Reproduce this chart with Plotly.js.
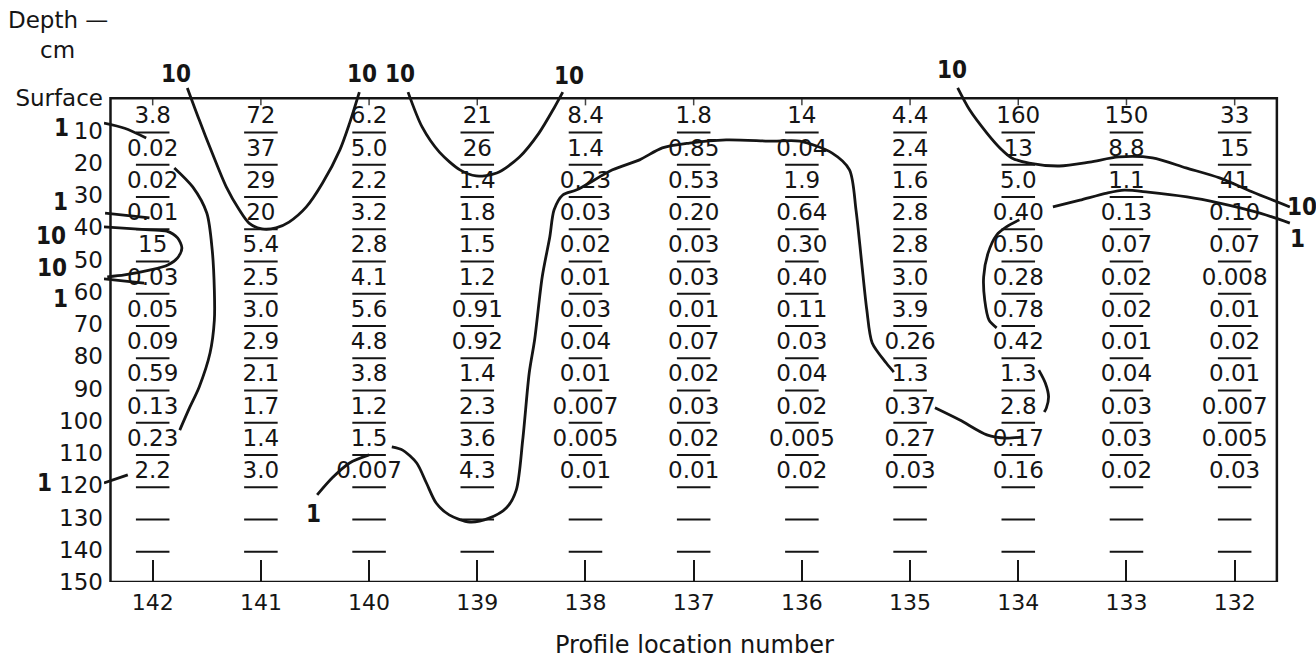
<!DOCTYPE html>
<html><head><meta charset="utf-8">
<script src="https://cdn.plot.ly/plotly-3.0.1.min.js"></script>
<style>html,body{margin:0;padding:0;background:#fff;} #chart{width:1316px;height:661px;}</style>
</head><body><div id="chart"></div>
<script>
// ---- data ----
const locations = ['142','141','140','139','138','137','136','135','134','133','132'];
const sampleTops = [0,10,20,30,40,50,60,70,80,90,100,110];
const blankTops = [120,130];
const yTickVals = [0,10,20,30,40,50,60,70,80,90,100,110,120,130,140,150];
const yTickText = ['Surface','10','20','30','40','50','60','70','80','90','100','110','120','130','140','150'];

const v142 = ['3.8','0.02','0.02','0.01','15','0.03','0.05','0.09','0.59','0.13','0.23','2.2'];
const v141 = ['72','37','29','20','5.4','2.5','3.0','2.9','2.1','1.7','1.4','3.0'];
const v140 = ['6.2','5.0','2.2','3.2','2.8','4.1','5.6','4.8','3.8','1.2','1.5','0.007'];
const v139 = ['21','26','1.4','1.8','1.5','1.2','0.91','0.92','1.4','2.3','3.6','4.3'];
const v138 = ['8.4','1.4','0.23','0.03','0.02','0.01','0.03','0.04','0.01','0.007','0.005','0.01'];
const v137 = ['1.8','0.85','0.53','0.20','0.03','0.03','0.01','0.07','0.02','0.03','0.02','0.01'];
const v136 = ['14','0.04','1.9','0.64','0.30','0.40','0.11','0.03','0.04','0.02','0.005','0.02'];
const v135 = ['4.4','2.4','1.6','2.8','2.8','3.0','3.9','0.26','1.3','0.37','0.27','0.03'];
const v134 = ['160','13','5.0','0.40','0.50','0.28','0.78','0.42','1.3','2.8','0.17','0.16'];
const v133 = ['150','8.8','1.1','0.13','0.07','0.02','0.02','0.01','0.04','0.03','0.03','0.02'];
const v132 = ['33','15','41','0.10','0.07','0.008','0.01','0.02','0.01','0.007','0.005','0.03'];
const columns = [v142,v141,v140,v139,v138,v137,v136,v135,v134,v133,v132];

// hand-drawn isolines, x = profile index (0 = 142), y = depth cm
const iso10A_x = [0.32,0.43,0.55,0.68,0.80,0.89,1.01,1.14,1.26,1.42,1.57,1.73,1.82,1.91];
const iso10A_y = [-3.2,6.7,17.0,27.5,34.6,38.7,40.5,40.2,38.4,33.7,26.3,16.0,7.7,-1.9];
const iso10B_x = [2.36,2.49,2.65,2.84,2.99,3.18,3.39,3.57,3.71,3.79];
const iso10B_y = [-1.9,8.9,16.7,22.2,24.1,23.2,18.2,10.8,3.0,-1.9];
const iso10C_x = [7.44,7.55,7.71,7.83,7.94,8.10,8.38,8.66,8.93,9.24,9.55,9.86,10.16,10.51];
const iso10C_y = [-3.2,3.6,10.8,15.4,18.5,20.1,21.0,19.8,18.2,18.5,21.6,24.7,29.0,33.7];
const iso10D_x = [-0.45,-0.03,0.13,0.23,0.27,0.23,0.14,-0.03,-0.26,-0.42];
const iso10D_y = [39.9,40.8,41.2,43.3,46.4,49.5,51.7,53.3,54.8,55.4];
const iso1A_x = [-0.45,-0.26,-0.06];
const iso1A_y = [7.7,9.3,12.3];
const iso1B_x = [0.20,0.37,0.50,0.55,0.57,0.57,0.53,0.43,0.34,0.25];
const iso1B_y = [21.6,27.5,35.6,47.0,59.5,68.8,79.0,89.5,96.0,102.9];
const iso1C_x = [-0.45,-0.23];
const iso1C_y = [119.3,116.8];
const iso1D_x = [-0.44,-0.03];
const iso1D_y = [35.6,37.1];
const iso1E_x = [-0.45,-0.08];
const iso1E_y = [56.0,57.3];
const iso1F_x = [1.52,1.66,1.82,2.00];
const iso1F_y = [123.0,117.7,113.1,110.6];
const iso1G_x = [2.21,2.31,2.44,2.53,2.62,2.74,2.93,3.11,3.27,3.36,3.42,3.48,3.53,3.60,3.67,3.71,3.79,3.92,4.25,4.50,4.71,4.96,5.30,5.73,5.98,6.28,6.44,6.50,6.55,6.60,6.65,6.78,6.85];
const iso1G_y = [108.1,109.1,113.1,119.3,125.5,129.2,131.4,130.2,127.0,121.5,105.9,85.2,74.9,55.4,43.0,34.6,30.0,28.4,22.2,19.1,15.4,13.9,12.9,13.3,13.3,17.0,22.2,34.6,50.1,65.6,75.9,82.1,84.9];
const iso1H_x = [7.23,7.46,7.71,7.89,8.04];
const iso1H_y = [96.0,99.8,104.4,105.4,105.0];
const iso1I_x = [8.19,8.25,8.28,8.26,8.24];
const iso1I_y = [84.3,88.3,92.6,96.0,97.3];
const iso1J_x = [8.01,7.89,7.80,7.72,7.68,7.69,7.73,7.80];
const iso1J_y = [37.7,39.9,42.4,48.1,55.4,62.6,68.8,71.2];
const iso1K_x = [8.32,8.57,8.82,8.98,9.20,9.56,9.86,10.05,10.29,10.51];
const iso1K_y = [33.7,31.6,29.4,28.5,29.1,30.6,32.5,34.0,36.2,38.7];

// ---- layout constants ----
const L = 104, R = 11, T = 66, B = 79, W = 1316, H = 661;
const PW = W - L - R, PH = H - T - B;
const FONT = 'DejaVu Sans, Verdana, sans-serif';
const NUMFONT = 'DejaVu Sans Condensed, Liberation Sans Narrow, sans-serif';
const ink = '#151515';

const traces = [];
// underlines
const ux = [], uy = [];
columns.forEach((col, i) => {
  sampleTops.concat(blankTops).forEach(top => {
    ux.push(i - 0.155, i + 0.155, null);
    uy.push(top + 10.6, top + 10.6, null);
  });
});
traces.push({x: ux, y: uy, mode: 'lines', line: {color: ink, width: 2}, hoverinfo: 'skip', showlegend: false});

// small ticks hanging from the top border
const topx = [], topy = [];
locations.forEach((_, i) => { topx.push(i, i, null); topy.push(0, 2.2, null); });
traces.push({x: topx, y: topy, mode: 'lines', line: {color: '#444', width: 1.5}, hoverinfo: 'skip', showlegend: false});

// values
const tx = [], ty = [], tt = [];
columns.forEach((col, i) => {
  col.forEach((val, k) => { tx.push(i); ty.push(sampleTops[k] + 6.0); tt.push(val); });
});
traces.push({x: tx, y: ty, text: tt, mode: 'text', textposition: 'middle center',
  textfont: {family: FONT, size: 23, color: ink}, cliponaxis: false, hoverinfo: 'skip', showlegend: false});

// isolines
[[iso10A_x,iso10A_y],[iso10B_x,iso10B_y],[iso10C_x,iso10C_y],[iso10D_x,iso10D_y],
 [iso1A_x,iso1A_y],[iso1B_x,iso1B_y],[iso1C_x,iso1C_y],[iso1D_x,iso1D_y],[iso1E_x,iso1E_y],
 [iso1F_x,iso1F_y],[iso1G_x,iso1G_y],[iso1H_x,iso1H_y],[iso1I_x,iso1I_y],[iso1J_x,iso1J_y],[iso1K_x,iso1K_y]]
.forEach(p => traces.push({x: p[0], y: p[1], mode: 'lines',
  line: {color: ink, width: 2.8, shape: 'spline', smoothing: 0.8}, hoverinfo: 'skip', showlegend: false}));

function px(xp) { return (xp - L) / PW; }
function py(yp) { return (H - B - yp) / PH; }
function lab(x, y, text, opts) {
  return Object.assign({xref: 'paper', yref: 'paper', x: px(x), y: py(y), text: text, showarrow: false,
    xanchor: 'center', yanchor: 'middle', font: {family: NUMFONT, size: 24, color: ink, weight: 'bold'}}, opts || {});
}
const isoLabels = [
  [176,74,'10'],[362,74,'10'],[400,74,'10'],[569,76,'10'],[952,70,'10'],
  [1302,207,'10'],[1297,239,'1'],
  [61,128,'1'],[60,202,'1'],[51,236,'10'],[52,268,'10'],[60,299,'1'],[44,483,'1'],[313,514,'1']
];
const annotations = isoLabels.map(a => lab(a[0], a[1], a[2]));
annotations.push(lab(6, 20, 'Depth —', {xanchor: 'left', font: {family: FONT, size: 23, color: ink}}));
annotations.push(lab(38, 50, 'cm', {xanchor: 'left', font: {family: FONT, size: 23, color: ink}}));
annotations.push(lab(694, 645, 'Profile location number', {font: {family: FONT, size: 24, color: ink}}));

const layout = {
  width: W, height: H,
  margin: {l: L, r: R, t: T, b: B, pad: 0},
  paper_bgcolor: '#fff', plot_bgcolor: '#fff',
  showlegend: false,
  xaxis: {range: [-0.45, 10.65], tickvals: locations.map((_, i) => i), ticktext: locations,
    ticks: 'inside', ticklen: 22, tickwidth: 2, tickcolor: ink, showline: false, showgrid: false, zeroline: false,
    tickfont: {family: FONT, size: 22, color: ink}, ticklabelstandoff: 5, fixedrange: true},
  yaxis: {range: [150, -10], tickvals: yTickVals, ticktext: yTickText, ticks: '',
    showline: false, showgrid: false, zeroline: false,
    tickfont: {family: FONT, size: 23, color: ink}, fixedrange: true},
  shapes: [{type: 'rect', xref: 'x', yref: 'y', x0: -0.39, x1: 10.39, y0: 0, y1: 150,
    line: {color: ink, width: 2.5}, fillcolor: 'rgba(0,0,0,0)', layer: 'above'}],
  annotations: annotations
};
Plotly.newPlot('chart', traces, layout, {staticPlot: true, displayModeBar: false});
</script></body></html>
